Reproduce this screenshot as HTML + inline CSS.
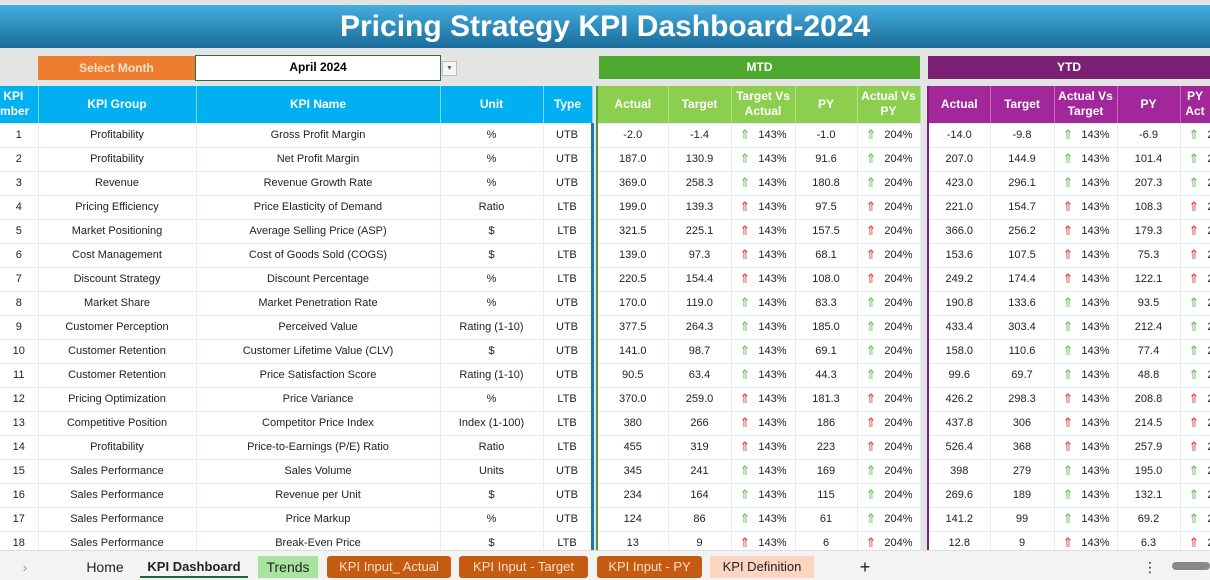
<!DOCTYPE html>
<html><head><meta charset="utf-8">
<style>
*{margin:0;padding:0;box-sizing:border-box}
body{width:1210px;height:580px;overflow:hidden;background:#e4e4e4;font-family:"Liberation Sans","DejaVu Sans",sans-serif;position:relative}
.title{position:absolute;left:0;top:5px;width:1210px;height:43px;background:linear-gradient(#45aee0,#1a6c99);color:#fff;font-weight:bold;font-size:30px;line-height:43px}
.title span{position:absolute;left:340px;top:0}
.sel{position:absolute;left:38px;top:56px;width:157px;height:24px;background:#ed7d31;color:#fde0c8;font-size:12px;font-weight:bold;text-align:center;line-height:24px}
.mon{position:absolute;left:195px;top:55px;width:246px;height:26px;background:#fff;border:1.5px solid #2f6b3b;font-size:12px;font-weight:bold;text-align:center;line-height:23px}
.dd{position:absolute;left:442px;top:61px;width:15px;height:15px;background:#f5f5f5;border:1px solid #bbb;font-size:7px;color:#666;text-align:center;line-height:13px}
.band{position:absolute;top:56px;height:23px;color:#fff;font-size:12px;font-weight:bold;text-align:center;line-height:23px}
table{position:absolute;left:0;top:86px;border-collapse:collapse;table-layout:fixed;width:1210px}
td{height:24px;font-size:11px;line-height:14px;text-align:center;color:#222;background:#fff;border-bottom:1px solid #dceef5;border-right:1px solid #e3f0f5;white-space:nowrap;overflow:hidden;padding:0;vertical-align:middle}
tr.h td{height:37px;font-weight:bold;color:#fff;font-size:12px;line-height:15px;border-right:1px solid #7fd6f7}
tr.h td.c{background:#00b0f0}
tr.h td.g{background:#8ccf4e;border-right:1px solid #b5e08c}
tr.h td.p{background:#a1279a;border-right:1px solid #c070bc}
td.gap{background:#e4e4e4;border:none}
td.gl{border-left:2px solid #4a9a3a}
td.pl{border-left:2px solid #7b2073}
td.bl{border-right:3px solid #1b7aa8}
td.a{text-align:left;padding-left:8px}
td.a b{font-weight:normal;font-size:13px;line-height:14px;margin-right:8px;display:inline-block;vertical-align:top}
.u b{color:#5cb84a}.l b{color:#e03030}
.tabs{position:absolute;left:0;top:550px;width:1210px;height:30px;background:#f3f3f3;border-top:1px solid #ddd;font-size:14px}
.tab{position:absolute;top:5px;height:22px;line-height:22px;text-align:center;color:#222}
</style></head><body>
<div class="title"><span>Pricing Strategy KPI Dashboard-2024</span></div>
<div class="sel">Select Month</div>
<div class="mon">April 2024</div>
<div class="dd">▼</div>
<div class="band" style="left:599px;width:321px;background:#4ea72e">MTD</div>
<div class="band" style="left:928px;width:282px;background:#7a1f72">YTD</div>
<table>
<colgroup><col style="width:38px"><col style="width:158px"><col style="width:244px"><col style="width:103px"><col style="width:49px"><col style="width:5px"><col style="width:71px"><col style="width:63px"><col style="width:64px"><col style="width:62px"><col style="width:63px"><col style="width:8px"><col style="width:62px"><col style="width:64px"><col style="width:63px"><col style="width:63px"><col style="width:30px"></colgroup>
<tr class="h"><td class="c" style="text-align:left;padding-left:0">&nbsp;KPI<br>mber</td><td class="c">KPI Group</td><td class="c">KPI Name</td><td class="c">Unit</td><td class="c bl">Type</td><td class="gap"></td><td class="g gl">Actual</td><td class="g">Target</td><td class="g">Target Vs<br>Actual</td><td class="g">PY</td><td class="g">Actual Vs<br>PY</td><td class="gap"></td><td class="p pl">Actual</td><td class="p">Target</td><td class="p">Actual Vs<br>Target</td><td class="p">PY</td><td class="p">PY<br>Act</td></tr>
<tr class="u"><td>1</td><td>Profitability</td><td>Gross Profit Margin</td><td>%</td><td class="bl">UTB</td><td class="gap"></td><td class="gl">-2.0</td><td>-1.4</td><td class="a"><b>⇑</b>143%</td><td>-1.0</td><td class="a"><b>⇑</b>204%</td><td class="gap"></td><td class="pl">-14.0</td><td>-9.8</td><td class="a"><b>⇑</b>143%</td><td>-6.9</td><td class="a"><b>⇑</b>204%</td></tr>
<tr class="u"><td>2</td><td>Profitability</td><td>Net Profit Margin</td><td>%</td><td class="bl">UTB</td><td class="gap"></td><td class="gl">187.0</td><td>130.9</td><td class="a"><b>⇑</b>143%</td><td>91.6</td><td class="a"><b>⇑</b>204%</td><td class="gap"></td><td class="pl">207.0</td><td>144.9</td><td class="a"><b>⇑</b>143%</td><td>101.4</td><td class="a"><b>⇑</b>204%</td></tr>
<tr class="u"><td>3</td><td>Revenue</td><td>Revenue Growth Rate</td><td>%</td><td class="bl">UTB</td><td class="gap"></td><td class="gl">369.0</td><td>258.3</td><td class="a"><b>⇑</b>143%</td><td>180.8</td><td class="a"><b>⇑</b>204%</td><td class="gap"></td><td class="pl">423.0</td><td>296.1</td><td class="a"><b>⇑</b>143%</td><td>207.3</td><td class="a"><b>⇑</b>204%</td></tr>
<tr class="l"><td>4</td><td>Pricing Efficiency</td><td>Price Elasticity of Demand</td><td>Ratio</td><td class="bl">LTB</td><td class="gap"></td><td class="gl">199.0</td><td>139.3</td><td class="a"><b>⇑</b>143%</td><td>97.5</td><td class="a"><b>⇑</b>204%</td><td class="gap"></td><td class="pl">221.0</td><td>154.7</td><td class="a"><b>⇑</b>143%</td><td>108.3</td><td class="a"><b>⇑</b>204%</td></tr>
<tr class="l"><td>5</td><td>Market Positioning</td><td>Average Selling Price (ASP)</td><td>$</td><td class="bl">LTB</td><td class="gap"></td><td class="gl">321.5</td><td>225.1</td><td class="a"><b>⇑</b>143%</td><td>157.5</td><td class="a"><b>⇑</b>204%</td><td class="gap"></td><td class="pl">366.0</td><td>256.2</td><td class="a"><b>⇑</b>143%</td><td>179.3</td><td class="a"><b>⇑</b>204%</td></tr>
<tr class="l"><td>6</td><td>Cost Management</td><td>Cost of Goods Sold (COGS)</td><td>$</td><td class="bl">LTB</td><td class="gap"></td><td class="gl">139.0</td><td>97.3</td><td class="a"><b>⇑</b>143%</td><td>68.1</td><td class="a"><b>⇑</b>204%</td><td class="gap"></td><td class="pl">153.6</td><td>107.5</td><td class="a"><b>⇑</b>143%</td><td>75.3</td><td class="a"><b>⇑</b>204%</td></tr>
<tr class="l"><td>7</td><td>Discount Strategy</td><td>Discount Percentage</td><td>%</td><td class="bl">LTB</td><td class="gap"></td><td class="gl">220.5</td><td>154.4</td><td class="a"><b>⇑</b>143%</td><td>108.0</td><td class="a"><b>⇑</b>204%</td><td class="gap"></td><td class="pl">249.2</td><td>174.4</td><td class="a"><b>⇑</b>143%</td><td>122.1</td><td class="a"><b>⇑</b>204%</td></tr>
<tr class="u"><td>8</td><td>Market Share</td><td>Market Penetration Rate</td><td>%</td><td class="bl">UTB</td><td class="gap"></td><td class="gl">170.0</td><td>119.0</td><td class="a"><b>⇑</b>143%</td><td>83.3</td><td class="a"><b>⇑</b>204%</td><td class="gap"></td><td class="pl">190.8</td><td>133.6</td><td class="a"><b>⇑</b>143%</td><td>93.5</td><td class="a"><b>⇑</b>204%</td></tr>
<tr class="u"><td>9</td><td>Customer Perception</td><td>Perceived Value</td><td>Rating (1-10)</td><td class="bl">UTB</td><td class="gap"></td><td class="gl">377.5</td><td>264.3</td><td class="a"><b>⇑</b>143%</td><td>185.0</td><td class="a"><b>⇑</b>204%</td><td class="gap"></td><td class="pl">433.4</td><td>303.4</td><td class="a"><b>⇑</b>143%</td><td>212.4</td><td class="a"><b>⇑</b>204%</td></tr>
<tr class="u"><td>10</td><td>Customer Retention</td><td>Customer Lifetime Value (CLV)</td><td>$</td><td class="bl">UTB</td><td class="gap"></td><td class="gl">141.0</td><td>98.7</td><td class="a"><b>⇑</b>143%</td><td>69.1</td><td class="a"><b>⇑</b>204%</td><td class="gap"></td><td class="pl">158.0</td><td>110.6</td><td class="a"><b>⇑</b>143%</td><td>77.4</td><td class="a"><b>⇑</b>204%</td></tr>
<tr class="u"><td>11</td><td>Customer Retention</td><td>Price Satisfaction Score</td><td>Rating (1-10)</td><td class="bl">UTB</td><td class="gap"></td><td class="gl">90.5</td><td>63.4</td><td class="a"><b>⇑</b>143%</td><td>44.3</td><td class="a"><b>⇑</b>204%</td><td class="gap"></td><td class="pl">99.6</td><td>69.7</td><td class="a"><b>⇑</b>143%</td><td>48.8</td><td class="a"><b>⇑</b>204%</td></tr>
<tr class="l"><td>12</td><td>Pricing Optimization</td><td>Price Variance</td><td>%</td><td class="bl">LTB</td><td class="gap"></td><td class="gl">370.0</td><td>259.0</td><td class="a"><b>⇑</b>143%</td><td>181.3</td><td class="a"><b>⇑</b>204%</td><td class="gap"></td><td class="pl">426.2</td><td>298.3</td><td class="a"><b>⇑</b>143%</td><td>208.8</td><td class="a"><b>⇑</b>204%</td></tr>
<tr class="l"><td>13</td><td>Competitive Position</td><td>Competitor Price Index</td><td>Index (1-100)</td><td class="bl">LTB</td><td class="gap"></td><td class="gl">380</td><td>266</td><td class="a"><b>⇑</b>143%</td><td>186</td><td class="a"><b>⇑</b>204%</td><td class="gap"></td><td class="pl">437.8</td><td>306</td><td class="a"><b>⇑</b>143%</td><td>214.5</td><td class="a"><b>⇑</b>204%</td></tr>
<tr class="l"><td>14</td><td>Profitability</td><td>Price-to-Earnings (P/E) Ratio</td><td>Ratio</td><td class="bl">LTB</td><td class="gap"></td><td class="gl">455</td><td>319</td><td class="a"><b>⇑</b>143%</td><td>223</td><td class="a"><b>⇑</b>204%</td><td class="gap"></td><td class="pl">526.4</td><td>368</td><td class="a"><b>⇑</b>143%</td><td>257.9</td><td class="a"><b>⇑</b>204%</td></tr>
<tr class="u"><td>15</td><td>Sales Performance</td><td>Sales Volume</td><td>Units</td><td class="bl">UTB</td><td class="gap"></td><td class="gl">345</td><td>241</td><td class="a"><b>⇑</b>143%</td><td>169</td><td class="a"><b>⇑</b>204%</td><td class="gap"></td><td class="pl">398</td><td>279</td><td class="a"><b>⇑</b>143%</td><td>195.0</td><td class="a"><b>⇑</b>204%</td></tr>
<tr class="u"><td>16</td><td>Sales Performance</td><td>Revenue per Unit</td><td>$</td><td class="bl">UTB</td><td class="gap"></td><td class="gl">234</td><td>164</td><td class="a"><b>⇑</b>143%</td><td>115</td><td class="a"><b>⇑</b>204%</td><td class="gap"></td><td class="pl">269.6</td><td>189</td><td class="a"><b>⇑</b>143%</td><td>132.1</td><td class="a"><b>⇑</b>204%</td></tr>
<tr class="u"><td>17</td><td>Sales Performance</td><td>Price Markup</td><td>%</td><td class="bl">UTB</td><td class="gap"></td><td class="gl">124</td><td>86</td><td class="a"><b>⇑</b>143%</td><td>61</td><td class="a"><b>⇑</b>204%</td><td class="gap"></td><td class="pl">141.2</td><td>99</td><td class="a"><b>⇑</b>143%</td><td>69.2</td><td class="a"><b>⇑</b>204%</td></tr>
<tr class="l"><td>18</td><td>Sales Performance</td><td>Break-Even Price</td><td>$</td><td class="bl">LTB</td><td class="gap"></td><td class="gl">13</td><td>9</td><td class="a"><b>⇑</b>143%</td><td>6</td><td class="a"><b>⇑</b>204%</td><td class="gap"></td><td class="pl">12.8</td><td>9</td><td class="a"><b>⇑</b>143%</td><td>6.3</td><td class="a"><b>⇑</b>204%</td></tr>
</table>
<div class="tabs">
<div class="tab" style="left:18px;width:14px;color:#999">›</div>
<div class="tab" style="left:80px;width:50px">Home</div>
<div class="tab" style="left:140px;width:108px;border-bottom:2px solid #1e6b3a;font-weight:bold;font-size:13px">KPI Dashboard</div>
<div class="tab" style="left:258px;width:60px;background:#a9e3a0">Trends</div>
<div class="tab" style="left:327px;width:124px;background:#c55a11;color:#fde0c8;border-radius:3px;font-size:13px">KPI Input_ Actual</div>
<div class="tab" style="left:459px;width:129px;background:#c55a11;color:#fde0c8;border-radius:3px;font-size:13px">KPI Input - Target</div>
<div class="tab" style="left:597px;width:105px;background:#c55a11;color:#fde0c8;border-radius:3px;font-size:13px">KPI Input - PY</div>
<div class="tab" style="left:710px;width:104px;background:#fbd5c0;font-size:13px">KPI Definition</div>
<div class="tab" style="left:855px;width:20px;font-size:18px">+</div>
<div class="tab" style="left:1143px;width:10px">⋮</div>
<div style="position:absolute;left:1172px;top:11px;width:38px;height:8px;background:#888;border-radius:4px"></div>
</div>
</body></html>
